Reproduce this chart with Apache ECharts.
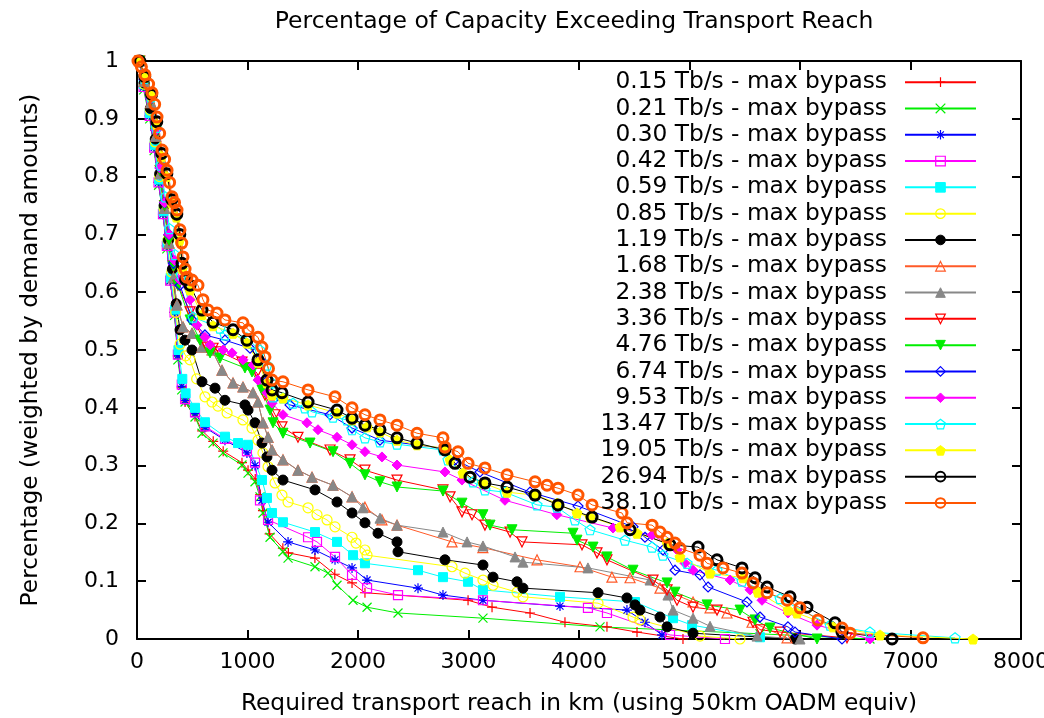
<!DOCTYPE html>
<html>
<head>
<meta charset="utf-8">
<title>Percentage of Capacity Exceeding Transport Reach</title>
<script src="https://cdn.jsdelivr.net/npm/echarts@6/dist/echarts.min.js"></script>
<style>
  html, body { margin: 0; padding: 0; background: #fff; }
  #chart { width: 1044px; height: 718px; }
</style>
</head>
<body>
<div id="chart"></div>
<script>
// Reach (km) vs fraction of capacity exceeding it, one curve per bypass rate.
const cap015 = [[25,1.0],[60,0.955],[115,0.905],[155,0.85],[195,0.79],[235,0.735],[270,0.68],[300,0.62],[340,0.565],[370,0.49],[405,0.435],[435,0.41],[525,0.385],[590,0.36],[690,0.342],[780,0.325],[950,0.305],[1005,0.292],[1070,0.277],[1115,0.25],[1140,0.222],[1200,0.182],[1320,0.157],[1370,0.149],[1610,0.14],[1790,0.112],[1946,0.097],[2063,0.08],[2996,0.067],[3213,0.055],[3557,0.045],[3873,0.029],[4253,0.021],[4525,0.012],[4941,0.0]];
const cap021 = [[25,1.0],[60,0.95],[115,0.9],[155,0.845],[195,0.785],[235,0.735],[270,0.675],[300,0.62],[340,0.56],[370,0.483],[405,0.431],[435,0.41],[525,0.384],[588,0.356],[688,0.339],[778,0.322],[950,0.301],[1005,0.287],[1068,0.272],[1113,0.246],[1140,0.218],[1204,0.176],[1321,0.151],[1367,0.14],[1611,0.125],[1729,0.114],[1810,0.093],[1955,0.067],[2082,0.055],[2362,0.045],[3131,0.036],[4190,0.021],[5638,0.009],[6633,0.0]];
const cap030 = [[25,1.0],[60,0.955],[115,0.905],[155,0.85],[195,0.79],[235,0.735],[270,0.68],[300,0.62],[340,0.565],[370,0.49],[405,0.437],[435,0.413],[525,0.39],[615,0.366],[796,0.344],[995,0.322],[1068,0.3],[1131,0.24],[1186,0.202],[1367,0.168],[1611,0.154],[1792,0.137],[1946,0.123],[2082,0.102],[2543,0.088],[2769,0.076],[3131,0.067],[3828,0.057],[4434,0.05],[4597,0.029],[4751,0.007]];
const cap042 = [[25,1.0],[60,0.955],[115,0.905],[155,0.85],[195,0.79],[235,0.735],[270,0.68],[300,0.62],[340,0.565],[370,0.492],[405,0.44],[435,0.415],[525,0.392],[615,0.368],[796,0.346],[995,0.325],[1068,0.305],[1113,0.24],[1186,0.206],[1548,0.176],[1629,0.168],[1792,0.142],[1946,0.111],[2082,0.088],[2362,0.076],[3131,0.067],[4081,0.054],[4253,0.045],[4824,0.007],[5321,0.0]];
const cap059 = [[25,1.0],[60,0.96],[115,0.91],[160,0.855],[200,0.795],[240,0.74],[275,0.685],[305,0.625],[345,0.57],[375,0.5],[410,0.45],[440,0.425],[525,0.4],[615,0.375],[796,0.35],[914,0.339],[1005,0.336],[1131,0.275],[1176,0.244],[1222,0.218],[1321,0.202],[1611,0.185],[1810,0.168],[1955,0.145],[2063,0.131],[2543,0.119],[2769,0.107],[2996,0.099],[3131,0.085],[3828,0.073],[4507,0.064],[4851,0.036],[5023,0.024],[5638,0.003]];
const cap085 = [[25,1.0],[65,0.96],[120,0.915],[165,0.86],[205,0.8],[245,0.745],[280,0.69],[315,0.635],[350,0.565],[390,0.51],[440,0.49],[480,0.483],[540,0.45],[615,0.419],[679,0.41],[733,0.403],[815,0.391],[959,0.379],[1041,0.365],[1095,0.344],[1140,0.322],[1186,0.298],[1249,0.27],[1312,0.249],[1367,0.237],[1548,0.227],[1629,0.215],[1720,0.206],[1792,0.194],[1946,0.176],[1982,0.166],[2063,0.154],[2082,0.145],[2851,0.125],[2968,0.114],[3131,0.102],[3222,0.093],[3439,0.081],[3493,0.073],[4172,0.062],[4489,0.038],[4552,0.033],[5095,0.005],[5457,0.0]];
const cap119 = [[25,1.0],[65,0.962],[120,0.918],[165,0.865],[205,0.805],[245,0.75],[285,0.69],[320,0.64],[355,0.58],[389,0.535],[434,0.517],[498,0.5],[588,0.445],[706,0.434],[796,0.413],[977,0.405],[1005,0.396],[1068,0.374],[1131,0.339],[1176,0.315],[1222,0.292],[1321,0.275],[1611,0.258],[1810,0.237],[1946,0.218],[2063,0.201],[2181,0.183],[2353,0.168],[2362,0.151],[2787,0.137],[3131,0.128],[3222,0.107],[3439,0.099],[3493,0.088],[4172,0.08],[4434,0.071],[4507,0.059],[4552,0.05],[4733,0.038],[4797,0.021],[5032,0.01],[5955,0.0]];
const cap168 = [[25,1.0],[65,0.965],[125,0.928],[170,0.87],[210,0.805],[250,0.745],[290,0.685],[330,0.625],[362,0.578],[416,0.54],[498,0.529],[588,0.505],[679,0.5],[769,0.465],[869,0.443],[959,0.436],[1050,0.426],[1095,0.41],[1140,0.374],[1186,0.349],[1222,0.327],[1321,0.31],[1457,0.292],[1584,0.28],[1774,0.266],[1946,0.246],[2063,0.228],[2217,0.206],[2353,0.197],[2851,0.168],[3130,0.158],[3620,0.137],[4009,0.125],[4298,0.107],[4462,0.106],[4733,0.088],[5032,0.064],[5186,0.054],[5339,0.045],[5566,0.029],[5883,0.002]];
const cap238 = [[25,1.0],[65,0.965],[125,0.928],[170,0.87],[210,0.805],[250,0.745],[290,0.685],[330,0.625],[362,0.578],[416,0.54],[498,0.529],[588,0.505],[679,0.5],[769,0.465],[869,0.443],[959,0.436],[1050,0.426],[1095,0.41],[1140,0.374],[1186,0.349],[1222,0.327],[1321,0.31],[1457,0.292],[1584,0.28],[1774,0.266],[1946,0.246],[2045,0.227],[2199,0.209],[2353,0.197],[2769,0.185],[2987,0.168],[3131,0.161],[3421,0.142],[3493,0.133],[4081,0.123],[4643,0.102],[4805,0.076],[4851,0.05],[5032,0.036],[5186,0.022],[5611,0.005],[6000,0.0]];
const cap336 = [[25,1.0],[65,0.967],[125,0.932],[170,0.875],[210,0.81],[250,0.75],[290,0.69],[330,0.645],[371,0.612],[480,0.566],[634,0.505],[688,0.503],[751,0.497],[950,0.479],[1041,0.469],[1086,0.46],[1158,0.422],[1249,0.388],[1312,0.367],[1457,0.349],[1747,0.327],[1928,0.31],[2063,0.292],[2353,0.275],[2769,0.258],[2833,0.246],[2941,0.22],[3032,0.215],[3149,0.197],[3376,0.185],[3484,0.168],[4027,0.163],[4163,0.149],[4253,0.137],[4670,0.102],[4797,0.085],[4887,0.067],[5032,0.055],[5249,0.05],[5575,0.029],[5638,0.016],[5820,0.012],[6425,0.002]];
const cap476 = [[25,1.0],[65,0.967],[125,0.932],[170,0.875],[210,0.81],[250,0.75],[290,0.69],[330,0.645],[371,0.612],[480,0.552],[570,0.517],[661,0.495],[751,0.486],[977,0.469],[1041,0.462],[1131,0.431],[1204,0.396],[1231,0.374],[1321,0.356],[1566,0.339],[1774,0.324],[1928,0.304],[2063,0.284],[2199,0.272],[2353,0.263],[2769,0.256],[2941,0.235],[3131,0.215],[3195,0.197],[3394,0.189],[3946,0.183],[3982,0.171],[4127,0.159],[4253,0.142],[4489,0.119],[4797,0.097],[4869,0.081],[5159,0.059],[5457,0.05],[5593,0.033],[5729,0.019],[6154,0.0]];
const cap674 = [[25,1.0],[65,0.968],[125,0.935],[170,0.88],[210,0.815],[250,0.755],[290,0.7],[330,0.65],[389,0.612],[498,0.552],[615,0.526],[796,0.517],[1023,0.503],[1113,0.483],[1186,0.448],[1249,0.417],[1385,0.405],[1747,0.388],[1946,0.365],[2199,0.344],[2769,0.33],[2878,0.31],[3104,0.289],[3557,0.254],[3991,0.23],[4489,0.194],[4597,0.176],[4760,0.154],[4869,0.119],[5095,0.111],[5168,0.09],[5520,0.064],[5638,0.038],[5891,0.021],[5955,0.012],[6380,0.0]];
const cap953 = [[25,1.0],[65,0.968],[125,0.935],[170,0.88],[210,0.815],[250,0.755],[290,0.7],[340,0.655],[389,0.621],[480,0.587],[543,0.543],[615,0.522],[661,0.509],[778,0.5],[860,0.495],[959,0.483],[1050,0.474],[1095,0.448],[1176,0.426],[1222,0.408],[1321,0.388],[1538,0.374],[1638,0.362],[1810,0.349],[1946,0.336],[2063,0.324],[2217,0.315],[2353,0.301],[2787,0.289],[2941,0.275],[3330,0.24],[3800,0.215],[4308,0.192],[4661,0.18],[4887,0.154],[4959,0.131],[5032,0.119],[5367,0.102],[5548,0.085],[5656,0.067],[5891,0.045],[6154,0.024],[6633,0.0]];
const cap1347 = [[25,1.0],[68,0.97],[128,0.938],[173,0.885],[215,0.82],[255,0.765],[295,0.71],[345,0.665],[400,0.63],[507,0.557],[751,0.538],[796,0.526],[995,0.521],[1041,0.512],[1113,0.5],[1176,0.474],[1222,0.443],[1231,0.419],[1321,0.417],[1412,0.408],[1520,0.4],[1584,0.393],[1774,0.384],[1900,0.379],[1946,0.362],[2063,0.348],[2199,0.341],[2353,0.337],[2769,0.327],[2814,0.31],[3041,0.272],[3149,0.258],[3330,0.254],[3620,0.232],[3801,0.228],[3964,0.206],[4100,0.189],[4416,0.171],[4661,0.159],[4760,0.145],[4978,0.131],[5249,0.119],[5475,0.1],[5820,0.07],[6272,0.024],[6633,0.012],[7403,0.002]];
const cap1905 = [[25,1.0],[70,0.972],[130,0.94],[178,0.89],[222,0.835],[268,0.8],[312,0.755],[357,0.73],[385,0.69],[410,0.64],[480,0.604],[588,0.561],[688,0.542],[869,0.529],[995,0.512],[1095,0.479],[1176,0.443],[1222,0.422],[1321,0.417],[1548,0.405],[1810,0.391],[1946,0.379],[2082,0.367],[2199,0.358],[2353,0.344],[2534,0.336],[2787,0.33],[2833,0.31],[2950,0.287],[3131,0.27],[3349,0.254],[3602,0.249],[3801,0.235],[3982,0.218],[4100,0.211],[4371,0.194],[4525,0.183],[4797,0.166],[4914,0.142],[5186,0.114],[5484,0.106],[5620,0.081],[5892,0.05],[5973,0.045],[6299,0.021],[6724,0.007],[7566,0.0]];
const cap2694 = [[25,1.0],[70,0.973],[132,0.942],[179,0.895],[224,0.84],[270,0.805],[315,0.76],[360,0.735],[387,0.7],[407,0.65],[440,0.622],[480,0.612],[588,0.569],[688,0.548],[869,0.535],[995,0.517],[1095,0.483],[1176,0.448],[1222,0.431],[1312,0.426],[1548,0.41],[1810,0.396],[1946,0.382],[2063,0.37],[2199,0.362],[2353,0.348],[2534,0.339],[2787,0.327],[2878,0.304],[3014,0.28],[3149,0.27],[3349,0.263],[3602,0.249],[3810,0.232],[4118,0.211],[4462,0.189],[4824,0.163],[5077,0.159],[5249,0.137],[5475,0.123],[5593,0.106],[5702,0.09],[5910,0.073],[6063,0.055],[6317,0.028],[6380,0.012],[6833,0.0]];
const cap3810 = [[9,1.0],[40,0.99],[72,0.976],[105,0.96],[136,0.945],[160,0.925],[181,0.903],[205,0.875],[226,0.846],[250,0.83],[272,0.811],[295,0.79],[317,0.765],[340,0.755],[362,0.742],[389,0.708],[405,0.685],[416,0.661],[435,0.64],[452,0.626],[498,0.621],[552,0.612],[597,0.587],[643,0.569],[724,0.564],[796,0.552],[959,0.547],[1005,0.535],[1095,0.522],[1130,0.505],[1158,0.488],[1190,0.468],[1222,0.448],[1321,0.445],[1548,0.431],[1792,0.419],[1946,0.4],[2063,0.388],[2199,0.379],[2353,0.37],[2534,0.356],[2769,0.348],[2787,0.332],[2905,0.324],[2996,0.304],[3149,0.296],[3349,0.284],[3602,0.272],[3711,0.266],[3810,0.261],[3991,0.249],[4118,0.232],[4389,0.218],[4435,0.201],[4661,0.197],[4733,0.185],[4797,0.176],[4869,0.166],[4914,0.157],[5095,0.145],[5159,0.131],[5303,0.123],[5475,0.114],[5575,0.097],[5702,0.08],[5883,0.067],[6000,0.054],[6163,0.033],[6380,0.019],[6453,0.01],[7113,0.002]];

const seriesNames = [
  '0.15 Tb/s - max bypass', '0.21 Tb/s - max bypass', '0.30 Tb/s - max bypass',
  '0.42 Tb/s - max bypass', '0.59 Tb/s - max bypass', '0.85 Tb/s - max bypass',
  '1.19 Tb/s - max bypass', '1.68 Tb/s - max bypass', '2.38 Tb/s - max bypass',
  '3.36 Tb/s - max bypass', '4.76 Tb/s - max bypass', '6.74 Tb/s - max bypass',
  '9.53 Tb/s - max bypass', '13.47 Tb/s - max bypass', '19.05 Tb/s - max bypass',
  '26.94 Tb/s - max bypass', '38.10 Tb/s - max bypass'
];
const seriesData = [cap015, cap021, cap030, cap042, cap059, cap085, cap119, cap168,
  cap238, cap336, cap476, cap674, cap953, cap1347, cap1905, cap2694, cap3810];

const xTicks = { min: 0, max: 8000, step: 1000 };
const yTicks = { min: 0, max: 1, step: 0.1 };

// Marker shapes
const PLUS = 'path://M5,0L5,10M0,5L10,5';
const CROSS = 'path://M0,0L10,10M10,0L0,10';
const STAR = 'path://M5,0L5,10M0,5L10,5M1.5,1.5L8.5,8.5M8.5,1.5L1.5,8.5';
const PENTA = 'path://M5,0L10,3.8L8.1,10L1.9,10L0,3.8Z';

// colour, symbol, filled?, rotation, symbol size, border width
const styles = [
  ['#ff0000', PLUS, false, 0, 10, 1.2],
  ['#00ee00', CROSS, false, 0, 9, 1.2],
  ['#0000ff', STAR, false, 0, 10, 1.2],
  ['#ff00ff', 'rect', false, 0, 9, 1.2],
  ['#00ffff', 'rect', true, 0, 9, 1],
  ['#ffff00', 'circle', false, 0, 10, 1.2],
  ['#000000', 'circle', true, 0, 10, 1],
  ['#ff5a28', 'triangle', false, 0, 10, 1.2],
  ['#888888', 'triangle', true, 0, 10, 1],
  ['#ff0000', 'triangle', false, 180, 10, 1.2],
  ['#00ee00', 'triangle', true, 180, 10, 1],
  ['#0000ff', 'diamond', false, 0, 10, 1.2],
  ['#ff00ff', 'diamond', true, 0, 10, 1],
  ['#00ffff', PENTA, false, 0, 10, 1.2],
  ['#ffff00', PENTA, true, 0, 10, 1],
  ['#000000', 'circle', false, 0, 10, 3],
  ['#ff5500', 'circle', false, 0, 10, 3]
];

const FONT = 'DejaVu Sans';
const series = seriesData.map((d, i) => {
  const [c, sym, filled, rot, size, bw] = styles[i];
  return {
    name: seriesNames[i],
    type: 'line',
    data: d,
    symbol: sym,
    symbolSize: size,
    symbolRotate: rot,
    showSymbol: true,
    clip: true,
    lineStyle: { color: c, width: 1 },
    itemStyle: {
      color: filled ? c : 'rgba(0,0,0,0)',
      borderColor: c,
      borderWidth: bw
    },
    emphasis: { disabled: true },
    animation: false
  };
});

const legendData = seriesNames.map((n, i) => ({
  name: n,
  itemStyle: { borderWidth: Math.min(styles[i][5], 2) }
}));

const axisCommon = {
  type: 'value',
  axisLine: { show: true, onZero: false, lineStyle: { color: '#000', width: 2 } },
  axisTick: { show: true, inside: true, length: 9, lineStyle: { color: '#000', width: 2 } },
  splitLine: { show: false }
};

const chart = echarts.init(document.getElementById('chart'), null, { renderer: 'canvas' });
chart.setOption({
  backgroundColor: '#ffffff',
  animation: false,
  title: {
    text: 'Percentage of Capacity Exceeding Transport Reach',
    left: 569,
    top: 5,
    textAlign: 'center',
    textStyle: { fontFamily: FONT, fontSize: 23.5, fontWeight: 'normal', color: '#000' }
  },
  grid: { left: 137, right: 23, top: 61, bottom: 79, containLabel: false, outerBoundsMode: 'none' },
  legend: {
    data: legendData,
    orient: 'vertical',
    align: 'right',
    right: 67,
    top: 69,
    padding: 0,
    itemGap: 0,
    itemWidth: 71,
    itemHeight: 12,
    selectedMode: false,
    textStyle: { fontFamily: FONT, fontSize: 23.3, color: '#000', lineHeight: 26.3, padding: [0, 13, 0, 0] }
  },
  xAxis: [
    Object.assign({}, axisCommon, {
      position: 'bottom',
      min: xTicks.min, max: xTicks.max, interval: xTicks.step,
      name: 'Required transport reach in km (using 50km OADM equiv)',
      nameLocation: 'middle',
      nameGap: 53,
      nameTextStyle: { fontFamily: FONT, fontSize: 23.3, color: '#000' },
      axisLabel: { fontFamily: FONT, fontSize: 22, color: '#000', margin: 12, formatter: v => String(v) }
    }),
    Object.assign({}, axisCommon, {
      position: 'top',
      min: xTicks.min, max: xTicks.max, interval: xTicks.step,
      axisLabel: { show: false }
    })
  ],
  yAxis: [
    Object.assign({}, axisCommon, {
      position: 'left',
      min: yTicks.min, max: yTicks.max, interval: yTicks.step,
      name: 'Percentage (weighted by demand amounts)',
      nameLocation: 'middle',
      nameGap: 95,
      nameTextStyle: { fontFamily: FONT, fontSize: 23.3, color: '#000' },
      axisLabel: { fontFamily: FONT, fontSize: 22, color: '#000', margin: 18 }
    }),
    Object.assign({}, axisCommon, {
      position: 'right',
      min: yTicks.min, max: yTicks.max, interval: yTicks.step,
      axisLabel: { show: false }
    })
  ],
  series: series
});
</script>
</body>
</html>
